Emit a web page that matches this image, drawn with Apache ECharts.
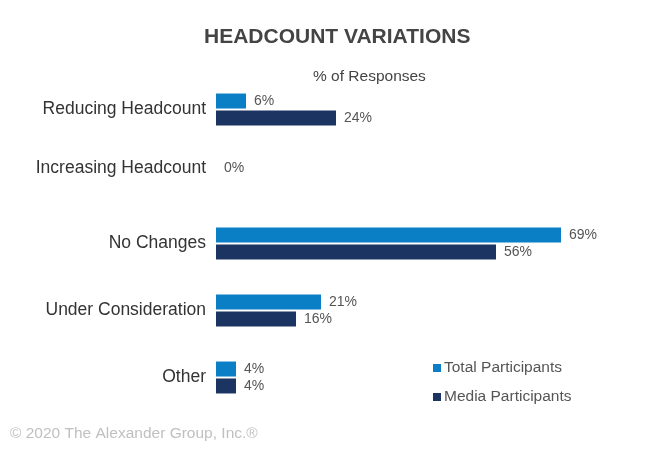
<!DOCTYPE html>
<html><head><meta charset="utf-8">
<script src="https://cdn.jsdelivr.net/npm/echarts@6/dist/echarts.min.js"></script>
<style>html,body{margin:0;padding:0;background:#fff}#c{width:650px;height:450px}</style>
</head><body><div id="c"></div>
<script>
var categories = ['Reducing Headcount', 'Increasing Headcount', 'No Changes', 'Under Consideration', 'Other'];
var totalParticipants = [6, 0, 69, 21, 4];
var mediaParticipants = [24, null, 56, 16, 4];
var seriesNames = ['Total Participants', 'Media Participants'];

var FONT = 'Liberation Sans, Arial';
var chart = echarts.init(document.getElementById('c'), null, {renderer: 'canvas'});
var labelStyle = {show: true, position: 'right', distance: 8, fontSize: 14, color: '#555', fontFamily: FONT, formatter: function(p){ return p.value == null ? '' : p.value + '%'; }};
chart.setOption({
  backgroundColor: '#fff',
  animation: false,
  title: [{
    text: 'HEADCOUNT VARIATIONS', left: 199, top: 22,
    textStyle: {fontSize: 21, fontWeight: 'bold', color: '#444', fontFamily: FONT}
  }, {
    text: '% of Responses', left: 308, top: 64,
    textStyle: {fontSize: 15.5, fontWeight: 'normal', color: '#444', fontFamily: FONT}
  }, {
    text: '© 2020 The Alexander Group, Inc.®', left: 5, top: 421,
    textStyle: {fontSize: 15.5, fontWeight: 'normal', color: '#c0c0c0', fontFamily: FONT}
  }],
  legend: {
    orient: 'vertical', left: 428, top: 355, itemGap: 13, itemWidth: 8, itemHeight: 8,
    icon: 'rect', data: seriesNames,
    textStyle: {fontSize: 15.5, color: '#555', fontFamily: FONT, padding: [0,0,0,-2]}
  },
  grid: {left: 216, right: 84, top: 76, height: 335, containLabel: false},
  xAxis: {type: 'value', min: 0, max: 70, show: false},
  yAxis: {
    type: 'category', data: categories, inverse: true,
    axisLine: {show: false}, axisTick: {show: false},
    axisLabel: {
      fontSize: 17.5, color: '#333', margin: 10, fontFamily: FONT,
      formatter: function(v, i){ return i === 1 ? '{up|' + v + '}' : v; },
      rich: {up: {fontSize: 17.5, color: '#333', fontFamily: FONT, padding: [0, 0, 16, 0]}}
    }
  },
  series: [{
    name: seriesNames[0], type: 'bar', data: totalParticipants, barWidth: 15, barGap: '13%',
    itemStyle: {color: '#0a7fc5'}, label: labelStyle
  }, {
    name: seriesNames[1], type: 'bar', data: mediaParticipants, barWidth: 15, barGap: '13%',
    itemStyle: {color: '#1b3461'}, label: labelStyle
  }]
});
</script></body></html>
